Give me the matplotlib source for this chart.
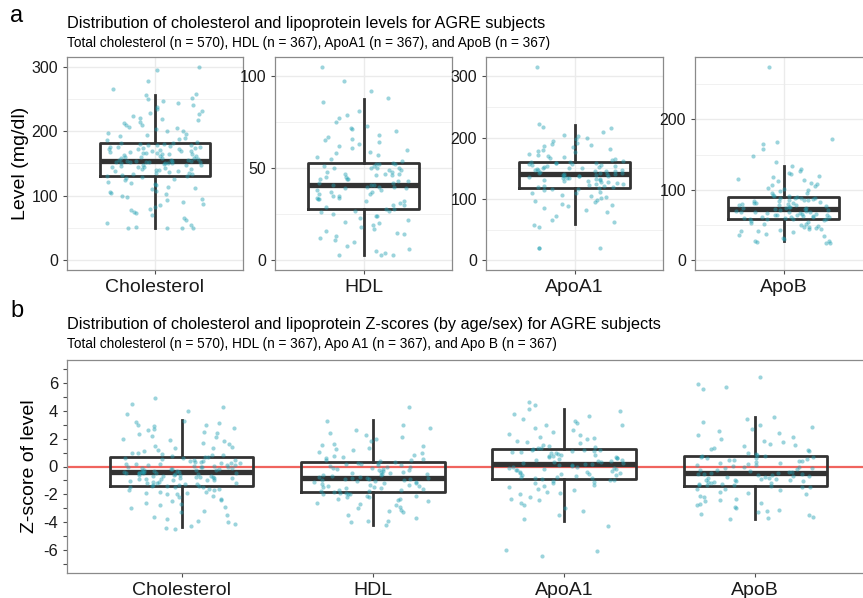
import numpy as np
import matplotlib
matplotlib.use("Agg")
import matplotlib.pyplot as plt
from matplotlib.ticker import MultipleLocator

plt.rcParams["font.family"] = ["Liberation Sans", "DejaVu Sans"]
plt.rcParams["axes.unicode_minus"] = False

groups = ["Cholesterol", "HDL", "ApoA1", "ApoB"]

# levels (mg/dl)
chol_level = [
    50, 50, 50, 50, 52, 55, 58, 62, 66, 70, 73, 75, 78, 80, 82, 85, 88, 90, 93, 95,
    98, 100, 102, 104, 106, 108, 110, 112, 114, 116, 118, 120, 122, 124, 126, 127, 129, 130,
    131, 132, 133, 134, 135, 136, 137, 138, 139, 140, 140, 141, 142, 143, 144, 145, 145,
    146, 147, 148, 148, 149, 150, 150, 151, 151, 152, 152, 153, 153, 153, 154, 154, 154, 154, 155, 155,
    156, 157, 158, 158, 159, 160, 161, 162, 163, 164, 165, 165, 166, 167, 168, 168, 169, 170,
    171, 172, 172, 173, 174, 175, 175, 176, 177, 178, 178, 179, 180, 180, 181, 160, 166, 170, 174,
    182, 184, 186, 188, 190, 192, 194, 196, 198, 200, 201, 203, 205, 207, 209, 210, 212, 215,
    217, 219, 221, 224, 226, 229, 232, 235, 238, 240, 243, 247, 250, 252, 256, 258, 265, 278, 295, 300,
]
hdl_level = [
    3, 3, 3, 4, 5, 6, 8, 10, 11, 12, 13, 14, 15, 16, 17, 18, 19, 20, 21, 22, 23, 24, 24, 25, 26, 27, 27,
    28, 28, 29, 30, 30, 31, 32, 32, 33, 33, 34, 34, 35, 35, 36, 36, 37, 37, 38, 38, 39, 39, 40, 40, 40, 41, 41, 41,
    42, 42, 43, 43, 44, 44, 45, 45, 46, 46, 47, 47, 48, 48, 49, 49, 50, 50, 50, 51, 51, 52, 52, 52, 53, 44, 47, 50,
    54, 55, 56, 57, 58, 59, 60, 61, 62, 63, 64, 65, 66, 67, 68, 70, 71, 72, 73, 75, 77, 79, 81, 86, 88, 92, 97, 105,
]
apoa1_level = [
    20, 20, 20, 55, 57, 62, 66, 72, 78, 82, 85, 88, 90, 92, 95, 97, 99, 101, 103, 105, 107, 109, 110, 112, 114, 116, 117,
    118, 119, 120, 121, 122, 123, 124, 125, 126, 127, 128, 129, 130, 131, 131, 132, 133, 134, 135, 135, 136, 137, 137,
    138, 138, 139, 139, 140,
    141, 141, 142, 143, 143, 144, 145, 145, 146, 147, 148, 148, 149, 150, 151, 151, 152, 153, 154, 154, 155, 156,
    157, 157, 158, 159, 159, 160,
    161, 162, 164, 165, 167, 168, 170, 172, 174, 176, 178, 180, 182, 184, 186, 188, 190, 192, 195, 198, 200, 203,
    205, 210, 215, 218, 222, 316,
]
apob_level = [
    25, 25, 26, 27, 28, 30, 32, 34, 36, 38, 40, 41, 42, 43, 44, 45, 46, 47, 48, 49, 50, 51, 52, 53, 54, 56, 57,
    58, 58, 59, 59, 60, 60, 61, 61, 62, 62, 63, 63, 64, 64, 65, 65, 66, 66, 67, 67, 68, 68, 69, 69, 70, 70, 71, 72,
    73, 73, 74, 74, 75, 76, 76, 77, 78, 78, 79, 80, 80, 81, 82, 82, 83, 84, 84, 85, 86, 86, 87, 88, 88, 89, 89, 90,
    91, 92, 93, 95, 96, 98, 100, 101, 103, 105, 107, 109, 110, 112, 114, 116, 118, 120, 122, 124, 127, 130, 134,
    140, 148, 158, 165, 168, 172, 275,
]

# z-scores by age/sex
chol_z = [
    -4.5, -4.4, -4.3, -4.1, -4.0, -3.8, -3.6, -3.5, -3.3, -3.2, -3.0, -2.9, -2.8, -2.7, -2.6, -2.5, -2.4, -2.3,
    -2.2, -2.1, -2.0, -2.0, -1.9, -1.9, -1.8, -1.8, -1.7, -1.7, -1.6, -1.6, -1.5, -1.5, -1.5, -1.4, -1.4, -1.4, -3.9,
    -1.35, -1.3, -1.28, -1.25, -1.2, -1.18, -1.15, -1.1, -1.08, -1.05, -1.0, -0.98, -0.95, -0.92, -0.9, -0.88,
    -0.85, -0.82, -0.8, -0.78, -0.75, -0.72, -0.7, -0.68, -0.65, -0.62, -0.6, -0.58, -0.55, -0.52, -0.5, -0.5,
    -0.48, -0.46, -0.45, -0.44, -0.42, -0.41,
    -0.4, -0.38, -0.35, -0.32, -0.3, -0.27, -0.25, -0.22, -0.2, -0.17, -0.15, -0.12, -0.1, -0.07, -0.05, -0.02,
    0.0, 0.03, 0.05, 0.08, 0.1, 0.13, 0.15, 0.18, 0.2, 0.23, 0.25, 0.28, 0.3, 0.34, 0.38, 0.42, 0.46, 0.5, 0.54,
    0.58, 0.62, 0.65,
    0.7, 0.75, 0.8, 0.85, 0.9, 0.95, 1.0, 1.1, 1.2, 1.3, 1.4, 1.5, 1.6, 1.7, 1.8, 1.9, 2.0, 2.1, 2.2, 2.3, 2.4,
    2.5, 2.6, 2.7, 2.8, 2.9, 3.0, 3.0, 3.1, 3.2, 3.3, 3.8, 4.0, 4.3, 4.5, 4.9, 1.3,
]
hdl_z = [
    -4.2, -4.0, -3.9, -3.9, -3.7, -3.5, -3.3, -3.2, -3.1, -3.0, -2.9, -2.8, -2.7, -2.6, -2.5, -2.4, -2.3, -2.3,
    -2.2, -2.2, -2.1, -2.1, -2.0, -2.0, -1.95, -1.9, -1.87,
    -1.82, -1.78, -1.75, -1.7, -1.66, -1.62, -1.58, -1.54, -1.5, -1.46, -1.42, -1.38, -1.34, -1.3, -1.26, -1.22,
    -1.18, -1.14, -1.1, -1.06, -1.02, -0.98, -0.95, -0.92, -0.9, -0.88, -0.86, -0.84,
    -0.8, -0.76, -0.72, -0.68, -0.64, -0.6, -0.56, -0.52, -0.48, -0.44, -0.4, -0.36, -0.32, -0.28, -0.24, -0.2,
    -0.16, -0.12, -0.08, -0.04, 0.0, 0.04, 0.08, 0.12, 0.16, 0.2, 0.24, 0.28,
    0.32, 0.38, 0.44, 0.5, 0.56, 0.62, 0.7, 0.78, 0.86, 0.95, 1.05, 1.15, 1.25, 1.35, 1.45, 1.55, 1.65, 1.8,
    1.95, 2.1, 2.25, 2.4, 2.6, 2.8, 3.0, 3.3, 4.3,
]
apoa1_z = [
    -6.4, -6.1, -6.0, -4.3, -3.8, -3.5, -3.2, -3.0, -2.8, -2.6, -2.4, -2.3, -2.2, -2.0, -1.9, -1.8, -1.7, -1.6,
    -1.5, -1.4, -1.3, -1.2, -1.15, -1.1, -1.05, -1.0, -0.95,
    -0.88, -0.84, -0.8, -0.76, -0.72, -0.68, -0.64, -0.6, -0.56, -0.52, -0.48, -0.44, -0.4, -0.36, -0.32, -0.28,
    -0.24, -0.2, -0.16, -0.12, -0.08, -0.04, 0.0, 0.04, 0.08, 0.12, 0.16, 0.19,
    0.22, 0.26, 0.3, 0.34, 0.38, 0.42, 0.46, 0.5, 0.54, 0.58, 0.62, 0.66, 0.7, 0.74, 0.78, 0.82, 0.86, 0.9,
    0.94, 0.98, 1.02, 1.06, 1.1, 1.14, 1.18, 1.2, 1.22, 1.25,
    1.3, 1.36, 1.42, 1.5, 1.58, 1.66, 1.75, 1.85, 1.95, 2.05, 2.15, 2.25, 2.35, 2.5, 2.65, 2.8, 2.95, 3.1,
    3.25, 3.4, 3.6, 3.8, 4.0, 4.1, 4.4, 4.6, 3.0,
]
apob_z = [
    -3.8, -3.7, -3.6, -3.5, -3.4, -3.3, -3.2, -3.1, -3.0, -2.9, -2.8, -2.7, -2.6, -2.5, -2.4, -2.3, -2.2, -2.1,
    -2.0, -1.9, -1.8, -1.7, -1.65, -1.6, -1.5, -1.45, -1.4,
    -1.36, -1.33, -1.3, -1.27, -1.24, -1.2, -1.17, -1.14, -1.1, -1.07, -1.04, -1.0, -0.97, -0.94, -0.9, -0.87,
    -0.84, -0.8, -0.77, -0.74, -0.7, -0.67, -0.64, -0.6, -0.57, -0.54, -0.51, -0.48,
    -0.44, -0.4, -0.36, -0.31, -0.27, -0.22, -0.18, -0.13, -0.09, -0.04, 0.0, 0.05, 0.09, 0.14, 0.18, 0.23,
    0.27, 0.32, 0.36, 0.41, 0.45, 0.5, 0.54, 0.58, 0.62, 0.66, 0.69, 0.72,
    0.78, 0.85, 0.92, 1.0, 1.08, 1.16, 1.25, 1.35, 1.45, 1.55, 1.65, 1.75, 1.85, 1.95, 2.1, 2.25, 2.4, 2.55,
    2.7, 2.85, 3.0, 3.2, 3.4, 3.55, 5.6, 5.7, 5.9, 6.4,
]

# box summaries: (whisker low, q1, median, q3, whisker high)
level_boxes = [
    (50, 131, 154, 181, 256),
    (3, 27.7, 41, 52.8, 87.6),
    (59.5, 118, 140.5, 160, 220.5),
    (27.4, 58.2, 72.3, 89.8, 133.8),
]
z_boxes = [
    (-4.32, -1.37, -0.41, 0.65, 3.36),
    (-4.2, -1.85, -0.84, 0.29, 3.36),
    (-3.89, -0.91, 0.19, 1.25, 4.15),
    (-3.79, -1.39, -0.48, 0.72, 3.55),
]

level_points = [chol_level, hdl_level, apoa1_level, apob_level]
z_points = [chol_z, hdl_z, apoa1_z, apob_z]
level_ylims = [(-15, 315), (-5.25, 110.25), (-15.8, 331.6), (-13.75, 288.75)]
level_yticks = [[0, 100, 200, 300], [0, 50, 100], [0, 100, 200, 300], [0, 100, 200]]

title_a = "Distribution of cholesterol and lipoprotein levels for AGRE subjects"
sub_a = "Total cholesterol (n = 570), HDL (n = 367), ApoA1 (n = 367), and ApoB (n = 367)"
title_b = "Distribution of cholesterol and lipoprotein Z-scores (by age/sex) for AGRE subjects"
sub_b = "Total cholesterol (n = 570), HDL (n = 367), Apo A1 (n = 367), and Apo B (n = 367)"

point_color = "#22a0b2"
box_color = "#333333"
border_color = "#8a8a8a"
grid_color = "#ebebeb"

W, H = 863, 598

# jitter only moves points sideways, like geom_jitter
rng = np.random.default_rng(7)


def px_axes(fig, x0, x1, y0, y1):
    return fig.add_axes([x0 / W, 1 - y1 / H, (x1 - x0) / W, (y1 - y0) / H])


def jitter(n, half=0.33):
    return rng.uniform(-half, half, n)


def draw_box(ax, pos, stats, width=0.75):
    lo, q1, med, q3, hi = stats
    ax.bxp(
        [dict(whislo=lo, q1=q1, med=med, q3=q3, whishi=hi, fliers=[])],
        positions=[pos], widths=width, showfliers=False, showcaps=False,
        boxprops=dict(color=box_color, linewidth=2.0),
        whiskerprops=dict(color=box_color, linewidth=2.0),
        medianprops=dict(color=box_color, linewidth=3.8, solid_capstyle="butt"),
        manage_ticks=False, zorder=2,
    )


def style_spines(ax):
    for sp in ax.spines.values():
        sp.set_color(border_color)
        sp.set_linewidth(0.9)
    ax.tick_params(colors="#4d4d4d", length=3, width=0.8, labelcolor="#1a1a1a")


fig = plt.figure(figsize=(W / 100, H / 100), dpi=100)

# panel a
panel_x = [(67, 243), (275, 452), (486, 663), (695, 872)]
for i, (x0, x1) in enumerate(panel_x):
    ax = px_axes(fig, x0, x1, 57, 270)
    lo, hi = level_ylims[i]
    ax.set_ylim(lo, hi)
    ax.set_xlim(0.4, 1.6)
    ticks = level_yticks[i]
    step = ticks[1] - ticks[0]
    ax.set_yticks(ticks)
    ax.yaxis.set_minor_locator(MultipleLocator(step / 2))
    ax.tick_params(axis="y", which="minor", length=0)
    ax.grid(True, which="major", color=grid_color, linewidth=1.0, zorder=0)
    ax.grid(True, which="minor", axis="y", color=grid_color, linewidth=0.5, zorder=0)
    ax.set_axisbelow(True)
    draw_box(ax, 1, level_boxes[i])
    vals = level_points[i]
    ax.scatter(1 + jitter(len(vals)), vals, s=9, color=point_color, alpha=0.45,
               linewidths=0, zorder=3)
    ax.set_xticks([1])
    ax.set_xticklabels([groups[i]], fontsize=14)
    ax.tick_params(axis="y", labelsize=11.5)
    style_spines(ax)
    if i == 0:
        ax.set_ylabel("Level (mg/dl)", fontsize=14, labelpad=2)

fig.text(10 / W, 1 - 22 / H, "a", fontsize=17)
fig.text(67 / W, 1 - 28 / H, title_a, fontsize=11.7)
fig.text(67 / W, 1 - 47 / H, sub_a, fontsize=9.8)

# panel b
axb = px_axes(fig, 67, 870, 360, 573)
axb.set_xlim(0.4, 4.6)
axb.set_ylim(-7.65, 7.65)
axb.axhline(0, color="#f0645e", linewidth=1.6, zorder=1)
for i in range(4):
    draw_box(axb, i + 1, z_boxes[i])
    vals = z_points[i]
    axb.scatter(i + 1 + jitter(len(vals), 0.31), vals, s=9, color=point_color, alpha=0.45,
                linewidths=0, zorder=3)
axb.set_xticks(range(1, 5))
axb.set_xticklabels(groups, fontsize=14)
axb.set_yticks([-6, -4, -2, 0, 2, 4, 6])
axb.yaxis.set_minor_locator(MultipleLocator(1))
axb.tick_params(axis="y", labelsize=12)
axb.tick_params(axis="y", which="minor", length=3, width=0.8, color="#4d4d4d")
style_spines(axb)
axb.set_ylabel("Z-score of level", fontsize=14, labelpad=4)

fig.text(10 / W, 1 - 317 / H, "b", fontsize=17)
fig.text(67 / W, 1 - 329 / H, title_b, fontsize=11.7)
fig.text(67 / W, 1 - 348 / H, sub_b, fontsize=9.8)

fig.savefig("out.png", dpi=100)
